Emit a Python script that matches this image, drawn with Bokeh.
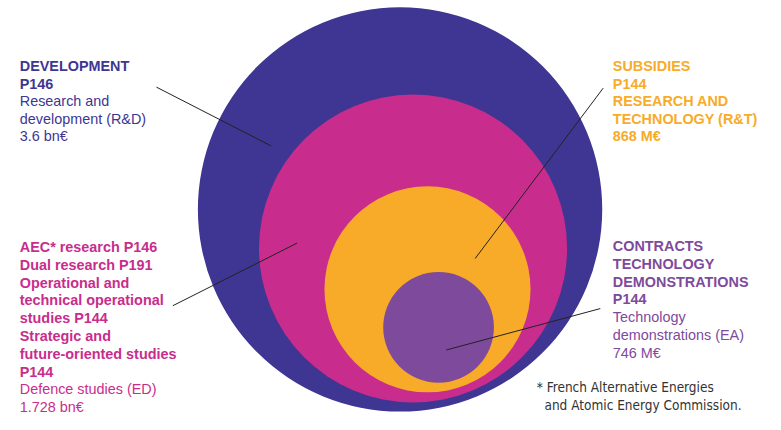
from bokeh.plotting import figure
from bokeh.models import ColumnDataSource, Range1d
from bokeh.core.properties import value
from bokeh.embed import file_html
from bokeh.resources import INLINE

# ---- data ----
categories = ["Research and development (R&D)", "Defence studies (ED)",
              "Research and technology (R&T)", "Technology demonstrations (EA)"]
amounts = ["3.6 bn€", "1.728 bn€", "868 M€", "746 M€"]
programmes = ["P146", "P146 / P191 / P144", "P144", "P144"]

# ---- layout (reference pixel space) ----
circle_x = [405, 418.5, 433.5, 445]
circle_y = [217, 257.5, 300, 339.5]
circle_r = [210, 160, 107, 57.5]
colors = ["#3e3692", "#c82d8d", "#f8ab28", "#7e4a9c"]
text_colors = ["#3e3692", "#c82d8d", "#f8ab28", "#7e4a9c"]

lead_x0 = [152, 169, 616, 613]
lead_y0 = [90, 317, 91, 320]
lead_x1 = [271, 298, 483, 453]
lead_y1 = [151, 252, 268, 363]

blocks = [
    (10, 68, 18.3, 0, [("DEVELOPMENT", "bold"), ("P146", "bold"), ("Research and", "normal"),
                       ("development (R&D)", "normal"), (amounts[0], "normal")]),
    (626, 68, 18.3, 2, [("SUBSIDIES", "bold"), ("P144", "bold"), ("RESEARCH AND", "bold"),
                        ("TECHNOLOGY (R&T)", "bold"), (amounts[2], "bold")]),
    (10, 256, 18.5, 1, [("AEC* research P146", "bold"), ("Dual research P191", "bold"),
                        ("Operational and", "bold"), ("technical operational", "bold"),
                        ("studies P144", "bold"), ("Strategic and", "bold"),
                        ("future-oriented studies", "bold"), ("P144", "bold"),
                        ("Defence studies (ED)", "normal"), (amounts[1], "normal")]),
    (626, 255, 18.5, 3, [("CONTRACTS", "bold"), ("TECHNOLOGY", "bold"), ("DEMONSTRATIONS", "bold"),
                         ("P144", "bold"), ("Technology", "normal"),
                         ("demonstrations  (EA)", "normal"), (amounts[3], "normal")]),
]

W, H = 765, 414
s = H / 430.0
x0 = -10
p = figure(width=W, height=H, output_backend="svg", toolbar_location=None,
           x_range=Range1d(x0, x0 + W / s), y_range=Range1d(430, 0),
           min_border=0, outline_line_color=None, background_fill_color="white")
p.axis.visible = False
p.xgrid.visible = False
p.ygrid.visible = False

p.circle(x=circle_x, y=circle_y, radius=circle_r, fill_color=colors, line_color=None)

p.segment(x0=lead_x0, y0=lead_y0, x1=lead_x1, y1=lead_y1, line_color="#222222", line_width=1)

tx, ty, tt, ts, tc = [], [], [], [], []
for bx, by, dy, ci, lines in blocks:
    for i, (t, st) in enumerate(lines):
        tx.append(bx)
        ty.append(by + i * dy)
        tt.append(t)
        ts.append(st)
        tc.append(text_colors[ci])
src = ColumnDataSource(dict(x=tx, y=ty, text=tt, style=ts, color=tc))
fs = "%.1fpx" % (15 * s)
p.text(x="x", y="y", text="text", source=src, text_font_style="style", text_color="color",
       text_font=value("Liberation Sans"), text_font_size=fs,
       text_baseline="middle", text_align="left")

foot = ColumnDataSource(dict(x=[547, 555], y=[401, 420],
                             text=["* French Alternative Energies", "and Atomic Energy Commission."]))
p.text(x="x", y="y", text="text", source=foot, text_color="#333333",
       text_font=value("'DejaVu Sans Condensed', 'Liberation Sans Narrow', 'Roboto', sans-serif"),
       text_font_size="%.1fpx" % (14 * s),
       text_baseline="middle", text_align="left")

open("out.html", "w").write(file_html(p, INLINE))
